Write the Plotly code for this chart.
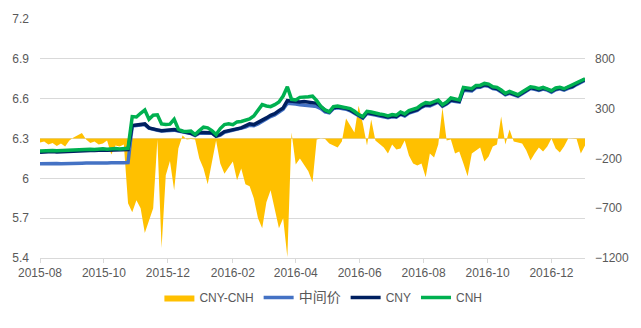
import pandas as pd
import plotly.graph_objects as go

# Observation dates (every 4 days)
dates = pd.date_range("2015-08-01", periods=131, freq="4D")

# CNY-CNH spread (pips), right axis
spread = [
    -40, -30, -60, -45, -75, -50, -80, -20, 10, 30,
    55, -10, -45, -30, -60, -50, -20, -160, -70, -80,
    -60, -650, -740, -620, -700, -950, -820, -700, -10, -1100,
    -370, -225, -520, -100, 30, -10, -5, -10, -200, -300,
    -460, -250, -20, -250, -355, -290, -230, -420, -300, -460,
    -480, -600, -800, -900, -640, -520, -720, -900, -800, -1190,
    60, -260, -200, -260, -330, -440, -10, 0, -5, -50,
    -70, -90, -30, 200, 130, 60, 330, 150, -70, 190,
    -20, -60, -90, -150, -60, -110, -100, -20, -170, -250,
    -270, -250, -390, -150, -190, -60, 310, -20, -10, -150,
    -130, -250, -380, -150, -120, -90, -230, -180, -80, -60,
    220, -60, 90, -30, -40, -50, -120, -220, -150, -90,
    -130, -80, 0, -100, -140, -80, 0, 0, -5, -150,
    -70,
]

# Central parity rate (中间价)
mid = [
    6.110, 6.112, 6.111, 6.113, 6.112, 6.110, 6.112, 6.114, 6.113, 6.112,
    6.114, 6.115, 6.113, 6.115, 6.116, 6.114, 6.116, 6.117, 6.115, 6.116,
    6.117, 6.118, 6.395, 6.398, 6.400, 6.405, 6.378, 6.367, 6.362, 6.356,
    6.357, 6.360, 6.363, 6.357, 6.352, 6.342, 6.337, 6.323, 6.340, 6.342,
    6.344, 6.340, 6.316, 6.326, 6.346, 6.354, 6.360, 6.368, 6.372, 6.386,
    6.400, 6.396, 6.410, 6.430, 6.445, 6.465, 6.477, 6.500, 6.520, 6.565,
    6.565, 6.560, 6.555, 6.553, 6.550, 6.545, 6.540, 6.525, 6.500, 6.493,
    6.526, 6.531, 6.526, 6.521, 6.509, 6.491, 6.466, 6.452, 6.489, 6.486,
    6.477, 6.470, 6.464, 6.456, 6.464, 6.460, 6.482, 6.470, 6.492, 6.502,
    6.512, 6.534, 6.549, 6.546, 6.559, 6.574, 6.542, 6.559, 6.584, 6.582,
    6.574, 6.664, 6.662, 6.659, 6.684, 6.686, 6.699, 6.694, 6.676, 6.670,
    6.651, 6.629, 6.640, 6.632, 6.618, 6.637, 6.656, 6.677, 6.670, 6.662,
    6.672, 6.664, 6.649, 6.667, 6.674, 6.664, 6.678, 6.687, 6.706, 6.722,
    6.739,
]

# Onshore spot rate
cny = [
    6.197, 6.200, 6.198, 6.202, 6.199, 6.201, 6.204, 6.202, 6.205, 6.207,
    6.206, 6.208, 6.210, 6.209, 6.212, 6.214, 6.211, 6.213, 6.215, 6.213,
    6.214, 6.216, 6.398, 6.400, 6.404, 6.410, 6.380, 6.370, 6.365, 6.358,
    6.360, 6.365, 6.368, 6.360, 6.355, 6.345, 6.340, 6.326, 6.345, 6.345,
    6.347, 6.343, 6.318, 6.330, 6.352, 6.360, 6.368, 6.375, 6.380, 6.395,
    6.410, 6.405, 6.420, 6.440, 6.455, 6.475, 6.487, 6.510, 6.530, 6.585,
    6.580, 6.575, 6.575, 6.578, 6.575, 6.572, 6.565, 6.540, 6.510, 6.500,
    6.532, 6.537, 6.532, 6.527, 6.515, 6.497, 6.472, 6.458, 6.495, 6.492,
    6.483, 6.476, 6.470, 6.462, 6.470, 6.466, 6.488, 6.476, 6.498, 6.508,
    6.518, 6.540, 6.555, 6.552, 6.565, 6.580, 6.548, 6.565, 6.590, 6.588,
    6.580, 6.670, 6.668, 6.665, 6.690, 6.692, 6.705, 6.700, 6.682, 6.676,
    6.657, 6.635, 6.646, 6.638, 6.624, 6.643, 6.662, 6.683, 6.676, 6.668,
    6.678, 6.670, 6.655, 6.673, 6.680, 6.670, 6.684, 6.693, 6.712, 6.728,
    6.745,
]

# Offshore spot rate
cnh = [
    6.205, 6.208, 6.206, 6.210, 6.207, 6.209, 6.212, 6.210, 6.213, 6.216,
    6.214, 6.216, 6.219, 6.217, 6.220, 6.223, 6.219, 6.222, 6.224, 6.221,
    6.223, 6.226, 6.465, 6.462, 6.490, 6.515, 6.445, 6.475, 6.478, 6.410,
    6.405, 6.408, 6.445, 6.370, 6.355, 6.352, 6.356, 6.330, 6.360, 6.385,
    6.380, 6.360, 6.330, 6.375, 6.405, 6.410, 6.404, 6.425, 6.428, 6.440,
    6.447, 6.470, 6.510, 6.555, 6.545, 6.540, 6.555, 6.575, 6.620, 6.690,
    6.595, 6.590, 6.610, 6.610, 6.615, 6.620, 6.585, 6.540, 6.515, 6.500,
    6.540, 6.545, 6.540, 6.535, 6.525, 6.505, 6.480, 6.465, 6.505, 6.500,
    6.490, 6.485, 6.480, 6.470, 6.480, 6.475, 6.500, 6.485, 6.510, 6.520,
    6.530, 6.555, 6.570, 6.565, 6.580, 6.590, 6.555, 6.575, 6.605, 6.600,
    6.590, 6.685, 6.680, 6.675, 6.700, 6.700, 6.715, 6.710, 6.690, 6.685,
    6.665, 6.640, 6.655, 6.645, 6.630, 6.650, 6.670, 6.690, 6.685, 6.675,
    6.685, 6.675, 6.660, 6.680, 6.685, 6.675, 6.690, 6.700, 6.720, 6.735,
    6.750,
]

for series in (spread, mid, cny, cnh):
    assert len(series) == len(dates)

# Axis ticks
x_tickvals = ["2015-08-01", "2015-10-01", "2015-12-01", "2016-02-01", "2016-04-01",
              "2016-06-01", "2016-08-01", "2016-10-01", "2016-12-01"]
x_ticktext = ["2015-08", "2015-10", "2015-12", "2016-02", "2016-04",
              "2016-06", "2016-08", "2016-10", "2016-12"]
rate_ticks = [5.4, 5.7, 6.0, 6.3, 6.6, 6.9, 7.2]
rate_ticktext = ["5.4", "5.7", "6", "6.3", "6.6", "6.9", "7.2"]
spread_ticks = [-1200, -700, -200, 300, 800]

GREY_TEXT = "#595959"
GRID = "#d9d9d9"
FONT = "Liberation Sans, Noto Sans CJK SC, sans-serif"
LINE_W = 3.5

fig = go.Figure()
fig.add_trace(go.Scatter(
    x=dates, y=spread, name="CNY-CNH", yaxis="y", mode="lines",
    line=dict(width=0, color="#FFC000"), fill="tozeroy", fillcolor="#FFC000",
))
fig.add_trace(go.Scatter(
    x=dates, y=mid, name="<span style='font-size:14px'>中间价</span>", yaxis="y2",
    mode="lines", line=dict(color="#4472C4", width=LINE_W),
))
fig.add_trace(go.Scatter(
    x=dates, y=cny, name="CNY", yaxis="y2", mode="lines",
    line=dict(color="#002060", width=LINE_W),
))
fig.add_trace(go.Scatter(
    x=dates, y=cnh, name="CNH", yaxis="y2", mode="lines",
    line=dict(color="#00B050", width=LINE_W),
))

fig.update_layout(
    width=641, height=328,
    margin=dict(l=39, r=54, t=16, b=70),
    paper_bgcolor="white", plot_bgcolor="white",
    font=dict(family=FONT, size=12, color=GREY_TEXT),
    showlegend=True,
    legend=dict(orientation="h", x=0.52, xanchor="center", y=-0.165, yanchor="middle",
                font=dict(family=FONT, size=12, color=GREY_TEXT),
                bgcolor="rgba(0,0,0,0)"),
    xaxis=dict(type="date", range=["2015-08-01", "2017-01-02"],
               tickmode="array", tickvals=x_tickvals, ticktext=x_ticktext,
               showgrid=False, zeroline=False, showline=True, linecolor=GRID,
               ticks="outside", ticklen=4, tickcolor=GRID,
               tickfont=dict(size=12, color=GREY_TEXT)),
    yaxis=dict(side="right", range=[-1200, 1200], tickmode="array", tickvals=spread_ticks,
               showgrid=False, zeroline=False, showline=False, ticks="",
               ticklabelstandoff=9, tickfont=dict(size=12, color=GREY_TEXT)),
    yaxis2=dict(overlaying="y", side="left", range=[5.4, 7.2], tickmode="array",
                tickvals=rate_ticks, ticktext=rate_ticktext,
                showgrid=True, gridcolor=GRID, gridwidth=1, zeroline=False,
                showline=False, ticks="", ticklabelstandoff=10,
                tickfont=dict(size=12, color=GREY_TEXT)),
    hovermode=False,
)

fig.write_html("out.html")
